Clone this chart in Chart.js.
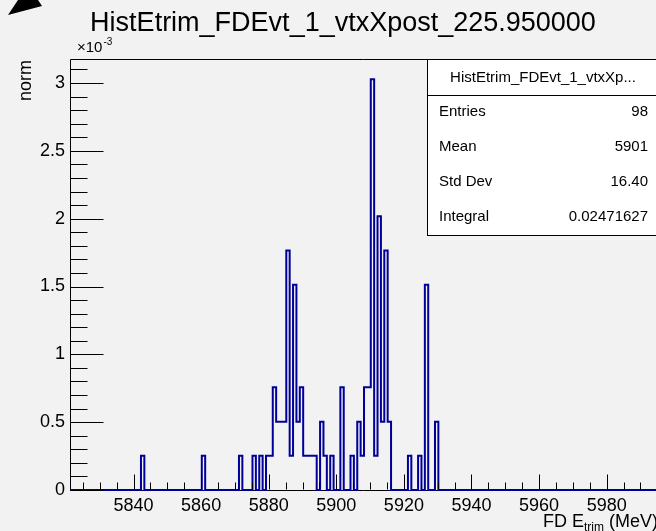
<!DOCTYPE html>
<html>
<head>
<meta charset="utf-8">
<title>HistEtrim_FDEvt_1_vtxXpost_225.950000</title>
<script src="https://cdn.jsdelivr.net/npm/chart.js@4.4.0/dist/chart.umd.min.js"></script>
<style>
  html, body { margin: 0; padding: 0; background: #f2f2f2; overflow: hidden; }
  #wrap { width: 656px; height: 531px; position: relative; }
</style>
</head>
<body>
<div id="wrap"><canvas id="hist" width="656" height="531"></canvas></div>
<script>
// filled bins: low edge (MeV) and content (norm, x1e-3); every other bin is empty
const binLow = [
    5842.2, 5860.2, 5871.2, 5875.2, 5877.2, 5879.2, 5880.2, 5881.2, 5882.2, 5883.2,
    5884.2, 5885.2, 5886.2, 5887.2, 5888.2, 5889.2, 5890.2, 5891.2, 5892.2, 5893.2,
    5895.2, 5896.2, 5898.2, 5901.2, 5904.2, 5906.2, 5907.2, 5908.2, 5909.2, 5910.2,
    5911.2, 5912.2, 5913.2, 5914.2, 5915.2, 5921.2, 5924.2, 5926.2, 5929.2
];
const normValues = [
    0.252, 0.252, 0.252, 0.252, 0.252, 0.252, 0.252, 0.757, 0.504, 0.504,
    0.504, 1.765, 0.252, 1.513, 0.504, 0.757, 0.252, 0.252, 0.252, 0.252,
    0.504, 0.252, 0.252, 0.757, 0.252, 0.504, 0.252, 0.757, 0.757, 3.027,
    0.252, 2.018, 0.504, 1.765, 0.504, 0.252, 0.252, 1.513, 0.504
];
const xTicks = [5840, 5860, 5880, 5900, 5920, 5940, 5960, 5980];
const yTicks = [0, 0.5, 1, 1.5, 2, 2.5, 3];
const statNames = ['Entries', 'Mean', 'Std Dev', 'Integral'];
const statValues = ['98', '5901', '16.40', '0.02471627'];

const histTitle = 'HistEtrim_FDEvt_1_vtxXpost_225.950000';
const statTitle = 'HistEtrim_FDEvt_1_vtxXp...';

const xMin = 5821.2, xMax = 5994.6, binWidth = 1;
const yMax = 3.177;
const FONT = '"Liberation Sans", Arial, Helvetica, sans-serif';
const LINE = '#000099';

// step outline over the whole axis range (empty bins are 0)
const nBins = Math.ceil((xMax - xMin) / binWidth);
const points = [];
for (let k = 0; k <= nBins; k++) {
    const x = +(xMin + k * binWidth).toFixed(2);
    const idx = binLow.findIndex(b => Math.abs(b - x) < 0.01);
    points.push({ x: x, y: idx >= 0 ? normValues[idx] : 0 });
}

const rootStyle = {
    id: 'rootStyle',
    beforeDatasetsDraw(chart) {
        const ctx = chart.ctx;
        const a = chart.chartArea;
        const L = Math.round(a.left) + 0.5, T = Math.round(a.top) + 0.5, B = Math.round(a.bottom) + 0.5;
        ctx.save();
        ctx.strokeStyle = '#000';
        ctx.lineWidth = 1;
        ctx.beginPath();
        ctx.moveTo(a.right + 5, T); ctx.lineTo(L, T); ctx.lineTo(L, B); ctx.lineTo(a.right + 5, B);
        ctx.stroke();
        ctx.restore();
    },
    afterDatasetsDraw(chart) {
        const ctx = chart.ctx;
        const a = chart.chartArea;
        const xs = chart.scales.x, ys = chart.scales.y;
        const L = Math.round(a.left) + 0.5, B = Math.round(a.bottom) + 0.5;
        ctx.save();
        ctx.strokeStyle = '#000';
        ctx.lineWidth = 1;
        // x ticks, inside the frame
        const xMarks = new Path2D();
        for (let v = 5825; v <= 5995; v += 5) {
            const px = Math.round(xs.getPixelForValue(v)) + 0.5;
            if (!(px >= a.left && px <= a.right)) continue;
            const len = v % 20 === 0 ? 16 : 8;
            xMarks.moveTo(px, B - 1);
            xMarks.lineTo(px, B - len);
        }
        ctx.stroke(xMarks);
        // y ticks
        const yMarks = new Path2D();
        for (let i = 0; i <= 31; i++) {
            const py = Math.round(ys.getPixelForValue(i / 10)) + 0.5;
            const len = i % 5 === 0 ? 33 : 17;
            yMarks.moveTo(L, py);
            yMarks.lineTo(L + len, py);
        }
        ctx.stroke(yMarks);
        ctx.restore();
    },
    afterDraw(chart) {
        const ctx = chart.ctx;
        ctx.save();

        // title
        ctx.fillStyle = '#000';
        ctx.font = '27px ' + FONT;
        ctx.textAlign = 'center';
        ctx.textBaseline = 'alphabetic';
        ctx.fillText(histTitle, 343, 31);

        // x10^-3
        ctx.textAlign = 'left';
        ctx.font = '15px ' + FONT;
        ctx.fillText('\u00d710', 77, 52);
        const w10 = ctx.measureText('\u00d710').width;
        ctx.font = '10px ' + FONT;
        ctx.fillText('-3', 77 + w10 + 1, 45);

        // y axis title
        ctx.save();
        ctx.translate(31, 60);
        ctx.rotate(-Math.PI / 2);
        ctx.font = '18px ' + FONT;
        ctx.textAlign = 'right';
        ctx.fillText('norm', 0, 0);
        ctx.restore();

        // x axis title with subscript, right aligned at the pad edge
        ctx.font = '18px ' + FONT;
        const p1 = 'FD E', p3 = ' (MeV)';
        const w1 = ctx.measureText(p1).width, w3 = ctx.measureText(p3).width;
        ctx.font = '12px ' + FONT;
        const w2 = ctx.measureText('trim').width;
        const x0 = 658 - (w1 + w2 + w3);
        ctx.font = '18px ' + FONT;
        ctx.fillText(p1, x0, 527);
        ctx.font = '12px ' + FONT;
        ctx.fillText('trim', x0 + w1, 531);
        ctx.font = '18px ' + FONT;
        ctx.fillText(p3, x0 + w1 + w2, 527);

        // stats box
        const bx = 427.5, by = 59.5, bb = 235.5;
        ctx.fillStyle = '#fff';
        ctx.fillRect(bx, by, 300, bb - by);
        ctx.strokeStyle = '#000';
        ctx.lineWidth = 1;
        ctx.strokeRect(bx, by, 300, bb - by);
        ctx.beginPath();
        ctx.moveTo(bx, 95.5); ctx.lineTo(bx + 300, 95.5);
        ctx.stroke();
        ctx.fillStyle = '#000';
        ctx.font = '15px ' + FONT;
        ctx.textBaseline = 'middle';
        ctx.textAlign = 'center';
        ctx.fillText(statTitle, 543, 78);
        const rowY = [112, 147, 182, 217];
        statNames.forEach((n, i) => {
            ctx.textAlign = 'left';
            ctx.fillText(n, 439, rowY[i]);
            ctx.textAlign = 'right';
            ctx.fillText(statValues[i], 648, rowY[i]);
        });

        // mouse pointer caught in the screenshot
        ctx.fillStyle = '#000';
        ctx.beginPath();
        ctx.moveTo(8, 15); ctx.lineTo(18, 0); ctx.lineTo(38, 0); ctx.lineTo(42, 6);
        ctx.closePath();
        ctx.fill();
        ctx.restore();
    }
};

const ctx = document.getElementById('hist').getContext('2d');
new Chart(ctx, {
    type: 'line',
    data: {
        datasets: [{
            label: 'norm',
            data: points,
            stepped: true,
            borderColor: LINE,
            borderWidth: 2,
            pointRadius: 0,
            fill: false,
            clip: false
        }]
    },
    options: {
        responsive: false,
        animation: false,
        events: [],
        layout: { padding: { top: 59, left: 0, right: 0, bottom: 0 } },
        plugins: {
            legend: { display: false },
            tooltip: { enabled: false },
            title: { display: false }
        },
        scales: {
            x: {
                type: 'linear',
                min: xMin,
                max: xMax,
                grid: { display: false, drawTicks: false },
                border: { display: false },
                afterBuildTicks: s => { s.ticks = xTicks.map(v => ({ value: v })); },
                afterFit: s => { s.height = 41; },
                ticks: {
                    autoSkip: false, maxRotation: 0, padding: 5, color: '#000',
                    font: { family: FONT, size: 18 },
                    callback: v => String(v)
                }
            },
            y: {
                min: 0,
                max: yMax,
                grid: { display: false, drawTicks: false },
                border: { display: false },
                afterBuildTicks: s => { s.ticks = yTicks.map(v => ({ value: v })); },
                afterFit: s => { s.width = 70; },
                ticks: {
                    padding: 5, color: '#000',
                    font: { family: FONT, size: 18 },
                    callback: v => String(v)
                }
            }
        }
    },
    plugins: [rootStyle]
});
</script>
</body>
</html>
